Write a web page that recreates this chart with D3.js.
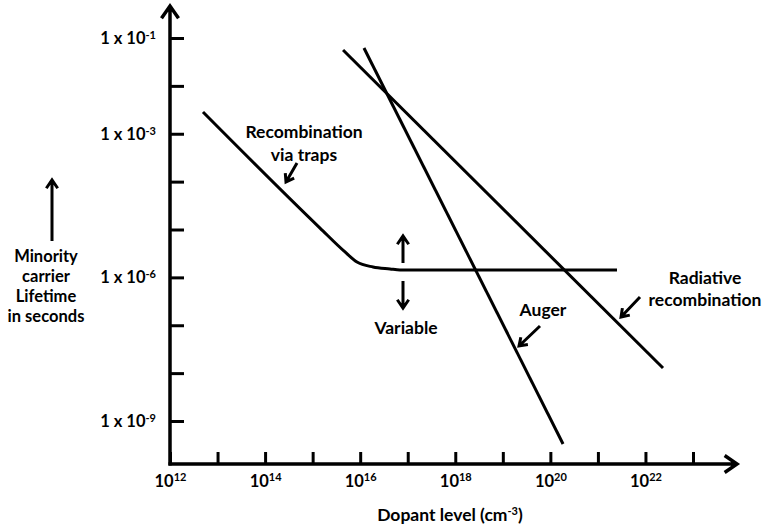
<!DOCTYPE html>
<html><head><meta charset="utf-8">
<script src="https://cdn.jsdelivr.net/npm/d3@7"></script>
<style>
body{margin:0;background:#fff}
svg text{font-family:Lato, "Open Sans", sans-serif;font-weight:700;fill:#000}
</style>
</head><body>
<svg id="chart" width="764" height="529"></svg>
<script>
// ---- data ----
const xTickValues = [1e12,1e13,1e14,1e15,1e16,1e17,1e18,1e19,1e20,1e21,1e22,1e23];
const xLabelExponents = [12,14,16,18,20,22];
const yTickValues = [1e-1,1e-2,1e-3,1e-4,1e-5,1e-6,1e-7,1e-8,1e-9];
const yLabelExponents = [-1,-3,-6,-9];

const trapsDopant   = [4.94e12, 1.43e15, 4.80e15, 8.57e15, 1.86e16, 4.24e16, 6.87e16, 2.52e21];
const trapsLifetime = [2.84e-3, 1.07e-5, 3.39e-6, 2.09e-6, 1.65e-6, 1.50e-6, 1.43e-6, 1.43e-6];
const augerDopant   = [1.20e16, 1.85e20];
const augerLifetime = [6.18e-2, 3.31e-10];
const radiativeDopant   = [4.36e15, 2.34e22];
const radiativeLifetime = [5.61e-2, 1.28e-8];

// ---- layout ----
const svg = d3.select("#chart");
const x = d3.scaleLog().domain([1e12,1e23]).range([170,693]);
const y = d3.scaleLog().domain([1e-1,1e-9]).range([38,421]);
const axisX0 = 170, axisY0 = 464;

function arrow(g, x1, y1, x2, y2, head, sw){
  const a = Math.atan2(y2-y1, x2-x1), spread = Math.PI/5.2;
  const p = d3.path();
  p.moveTo(x1,y1); p.lineTo(x2,y2);
  p.moveTo(x2 - head*Math.cos(a-spread), y2 - head*Math.sin(a-spread));
  p.lineTo(x2,y2);
  p.lineTo(x2 - head*Math.cos(a+spread), y2 - head*Math.sin(a+spread));
  g.append("path").attr("d", p.toString()).attr("fill","none")
    .attr("stroke","#000").attr("stroke-width",sw).attr("stroke-linejoin","miter");
}

// axes
const gx = svg.append("g").attr("transform",`translate(0,${axisY0})`)
  .call(d3.axisBottom(x).tickValues(xTickValues).tickSizeInner(-12).tickSizeOuter(0)
        .tickPadding(11).tickFormat(()=>""));
gx.select(".domain").remove();
gx.selectAll(".tick line").attr("stroke","#000").attr("stroke-width",3);
gx.selectAll(".tick text").each(function(d){
  const e = Math.round(Math.log10(d));
  if (!xLabelExponents.includes(e)) return;
  const t = d3.select(this).attr("font-size",16.5).attr("font-family",null);
  t.append("tspan").text("10");
  t.append("tspan").attr("font-size",11).attr("dy",-6).text(e);
});

const gy = svg.append("g").attr("transform",`translate(${axisX0},0)`)
  .call(d3.axisLeft(y).tickValues(yTickValues).tickSizeInner(-14).tickSizeOuter(0)
        .tickPadding(14).tickFormat(()=>""));
gy.select(".domain").remove();
gy.selectAll(".tick line").attr("stroke","#000").attr("stroke-width",3);
gy.selectAll(".tick text").each(function(d){
  const e = Math.round(Math.log10(d));
  if (!yLabelExponents.includes(e)) return;
  const t = d3.select(this).attr("font-size",16.5).attr("font-family",null);
  t.append("tspan").text("1 x 10");
  t.append("tspan").attr("font-size",11).attr("dy",-5).text(e);
});

// axis lines with arrow heads
arrow(svg, axisX0, axisY0 + 1.5, axisX0, 6, 15, 3.5);
arrow(svg, axisX0 - 1.5, axisY0, 737, axisY0, 15, 3.5);

// series
const line = d3.line().x(d=>x(d[0])).y(d=>y(d[1]));
const trapsData = trapsDopant.map((v,i)=>[v, trapsLifetime[i]]);
svg.append("path").attr("d", line.curve(d3.curveMonotoneX)(trapsData))
  .attr("fill","none").attr("stroke","#000").attr("stroke-width",3);
const line2 = d3.line().x(d=>x(d[0])).y(d=>y(d[1]));
svg.append("path").attr("d", line2(augerDopant.map((v,i)=>[v, augerLifetime[i]])))
  .attr("fill","none").attr("stroke","#000").attr("stroke-width",3);
svg.append("path").attr("d", line2(radiativeDopant.map((v,i)=>[v, radiativeLifetime[i]])))
  .attr("fill","none").attr("stroke","#000").attr("stroke-width",3);

// annotations
function label(lines, cx, cy, gap, size){
  lines.forEach((s,i)=>{
    svg.append("text").attr("x",cx).attr("y",cy + i*gap).attr("dy","0.35em")
      .attr("text-anchor","middle").attr("font-size",size).text(s);
  });
}
label(["Recombination","via traps"], 304, 132, 23, 17.5);
arrow(svg, 297, 163, 286, 182, 9, 3);

label(["Variable"], 406, 328, 0, 17.5);
arrow(svg, 403, 263, 403, 236, 10, 3);
arrow(svg, 403, 281, 403, 308, 10, 3);

label(["Auger"], 543, 310, 0, 17.5);
arrow(svg, 540, 326, 519, 346, 9, 3);

label(["Radiative","recombination"], 705, 278, 22, 17.5);
arrow(svg, 640, 297, 621, 317, 9, 3);

label(["Minority","carrier","Lifetime","in seconds"], 46, 256, 20, 16.5);
arrow(svg, 52, 241, 52, 180, 10, 3);

// x-axis title
const xt = svg.append("text").attr("x",450).attr("y",515).attr("dy","0.35em")
  .attr("text-anchor","middle").attr("font-size",17.5);
xt.append("tspan").text("Dopant level (cm");
xt.append("tspan").attr("font-size",11).attr("dy",-6).text("-3");
xt.append("tspan").attr("dy",6).text(")");
</script>
</body></html>
